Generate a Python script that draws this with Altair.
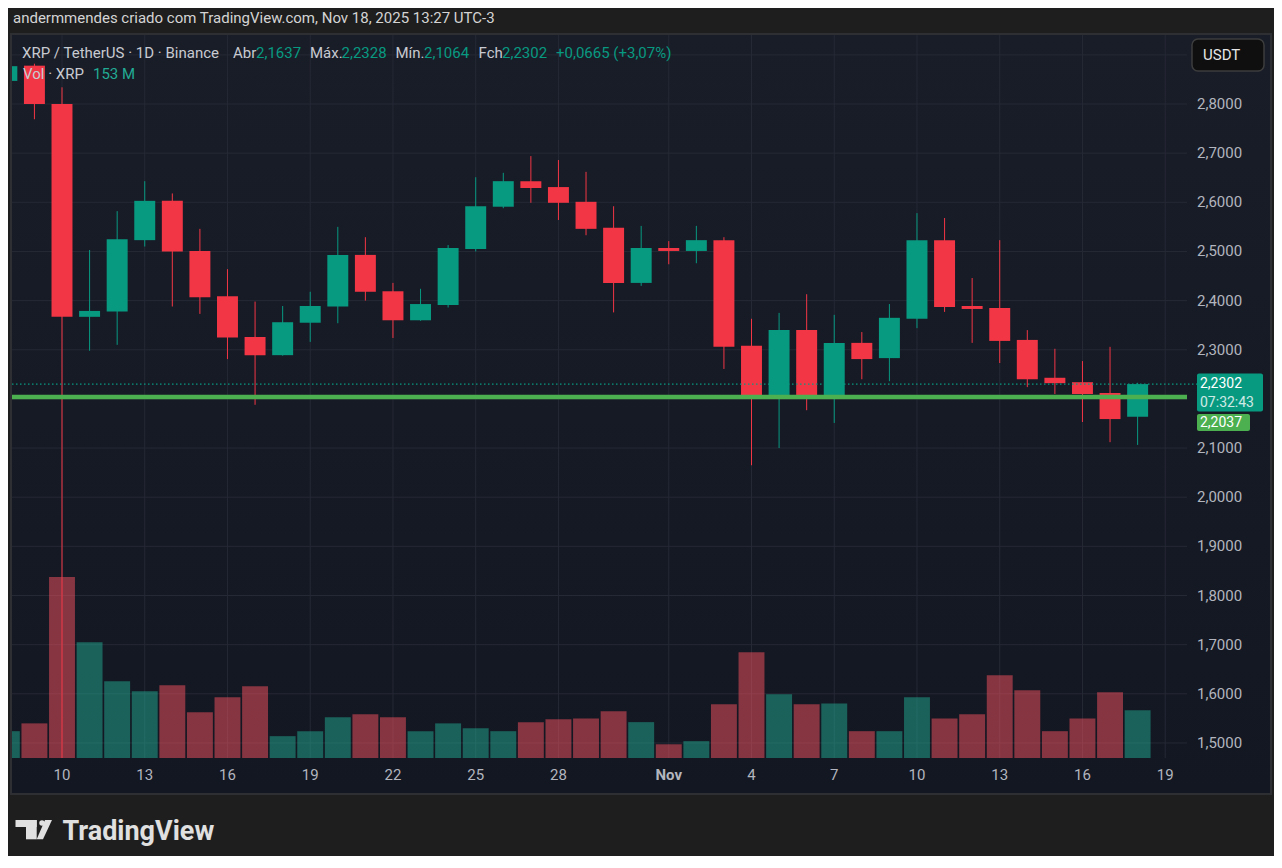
import altair as alt
import pandas as pd

# ---------------- data ----------------
dates = [d.strftime("%Y-%m-%d") for d in pd.date_range("2025-10-08", "2025-11-18")]
opens = [2.847, 2.878, 2.800, 2.367, 2.378, 2.523, 2.603, 2.501, 2.409, 2.326, 2.289, 2.355, 2.388, 2.493,
         2.419, 2.360, 2.391, 2.505, 2.591, 2.643, 2.631, 2.601, 2.548, 2.436, 2.507, 2.501, 2.523, 2.308,
         2.203, 2.340, 2.208, 2.314, 2.283, 2.363, 2.523, 2.389, 2.385, 2.320, 2.243, 2.234, 2.212, 2.1637]
highs = [2.905, 2.882, 2.834, 2.503, 2.582, 2.643, 2.618, 2.546, 2.464, 2.398, 2.389, 2.418, 2.550, 2.529,
         2.436, 2.424, 2.513, 2.651, 2.660, 2.694, 2.686, 2.662, 2.592, 2.552, 2.521, 2.552, 2.529, 2.363,
         2.375, 2.413, 2.371, 2.336, 2.393, 2.578, 2.568, 2.446, 2.523, 2.340, 2.302, 2.277, 2.306, 2.2328]
lows = [2.815, 2.769, 1.250, 2.298, 2.310, 2.510, 2.388, 2.373, 2.281, 2.188, 2.288, 2.316, 2.354, 2.400,
        2.324, 2.359, 2.386, 2.500, 2.588, 2.599, 2.564, 2.533, 2.376, 2.430, 2.474, 2.476, 2.261, 2.065,
        2.100, 2.177, 2.151, 2.240, 2.236, 2.344, 2.377, 2.314, 2.273, 2.224, 2.210, 2.153, 2.112, 2.1064]
closes = [2.877, 2.800, 2.367, 2.379, 2.525, 2.603, 2.500, 2.407, 2.325, 2.289, 2.356, 2.389, 2.493, 2.418,
          2.360, 2.393, 2.507, 2.592, 2.643, 2.629, 2.599, 2.546, 2.436, 2.507, 2.501, 2.523, 2.306, 2.203,
          2.340, 2.208, 2.314, 2.281, 2.365, 2.523, 2.387, 2.383, 2.318, 2.240, 2.232, 2.210, 2.159, 2.2302]
volumes_m = [86, 111, 580, 371, 246, 214, 233, 147, 195, 230, 70, 86, 131, 140, 131, 86, 111, 95, 86, 115,
             124, 127, 150, 115, 44, 54, 172, 339, 204, 172, 175, 86, 86, 195, 127, 140, 265, 217, 86, 127,
             211, 153]

# price-scale labels shown (2,2000 is hidden behind the last-price boxes in the reference)
price_label_values = [1.5, 1.6, 1.7, 1.8, 1.9, 2.0, 2.1, 2.3, 2.4, 2.5, 2.6, 2.7, 2.8]
grid_prices = [1.5, 1.6, 1.7, 1.8, 1.9, 2.0, 2.1, 2.2, 2.3, 2.4, 2.5, 2.6, 2.7, 2.8, 2.9]
date_tick_dates = ["2025-10-10", "2025-10-13", "2025-10-16", "2025-10-19", "2025-10-22", "2025-10-25",
                   "2025-10-28", "2025-11-01", "2025-11-04", "2025-11-07", "2025-11-10", "2025-11-13",
                   "2025-11-16", "2025-11-19"]
date_tick_labels = ["10", "13", "16", "19", "22", "25", "28", "Nov", "4", "7", "10", "13", "16", "19"]

last_price = 2.2302
level_price = 2.2037
countdown = "07:32:43"
header_text = "andermmendes criado com TradingView.com, Nov 18, 2025 13:27 UTC-3"

# ---------------- layout ----------------
W, H = 1174, 723
ORIGIN = pd.Timestamp("2025-10-10")
X_DOMAIN = [-1.813, 40.754]
Y_DOMAIN = [1.4694, 2.9404]
VOL_DOMAIN = [0, 2318]
UP, DOWN = "#089981", "#f23645"
VUP, VDOWN = "#22ab94", "#f7525f"
GRID = "#252935"
LABEL = "#b2b5be"
FONT = "Roboto"

xs = alt.Scale(domain=X_DOMAIN, nice=False, zero=False)
ys = alt.Scale(domain=Y_DOMAIN, nice=False, zero=False)
vs = alt.Scale(domain=VOL_DOMAIN, nice=False, zero=True)

df = pd.DataFrame({"date": dates, "open": opens, "high": highs, "low": lows,
                   "close": closes, "vol": volumes_m})
df["d"] = (pd.to_datetime(df["date"]) - ORIGIN).dt.days
df["dir"] = ["up" if c >= o else "down" for o, c in zip(opens, closes)]

ticks_df = pd.DataFrame({"d": [(pd.Timestamp(t) - ORIGIN).days for t in date_tick_dates],
                         "lbl": date_tick_labels})
one = pd.DataFrame({"a": [0]})


def X(field):
    return alt.X(field, scale=xs, axis=None)


def Y(field):
    return alt.Y(field, scale=ys, axis=None)


def txt(text, x, y, size=15, color=LABEL, weight="normal", align="left", baseline="middle", opacity=1.0):
    return alt.Chart(one).mark_text(
        text=text, align=align, baseline=baseline, fontSize=size, color=color,
        fontWeight=weight, font=FONT, opacity=opacity
    ).encode(x=alt.value(x), y=alt.value(y))


# background pane with gradient
bg = alt.Chart(one).mark_rect(
    fill=alt.Gradient(gradient="linear", x1=0, x2=0, y1=0, y2=1,
                      stops=[alt.GradientStop(color="#191d28", offset=0),
                             alt.GradientStop(color="#131722", offset=1)])
).encode(x=alt.value(0), x2=alt.value(1258), y=alt.value(0), y2=alt.value(758))

frame = alt.Chart(one).mark_rect(fillOpacity=0, stroke="#2e2f33", strokeWidth=2).encode(
    x=alt.value(-1), x2=alt.value(1259), y=alt.value(-1), y2=alt.value(759))

# grid
hgrid = alt.Chart(pd.DataFrame({"p": grid_prices})).mark_rule(color=GRID, strokeWidth=1).encode(
    y=Y("p:Q"), x=alt.value(0), x2=alt.value(W + 1))
vgrid = alt.Chart(ticks_df).mark_rule(color=GRID, strokeWidth=1, clip=True).encode(
    x=X("d:Q"), y=alt.value(0), y2=alt.value(H))

base = alt.Chart(df)
cond_v = alt.condition(alt.datum.dir == "up", alt.value(VUP), alt.value(VDOWN))
cond_c = alt.condition(alt.datum.dir == "up", alt.value(UP), alt.value(DOWN))

volume = base.transform_calculate(v0="datum.d - 0.47", v1="datum.d + 0.47").mark_rect(
    clip=True, opacity=0.5).encode(
    x=X("v0:Q"), x2="v1:Q",
    y=alt.Y("vol:Q", scale=vs, axis=None), y2=alt.Y2(datum=0),
    fill=cond_v)

wicks = base.mark_rule(clip=True, strokeWidth=1).encode(
    x=X("d:Q"), y=Y("low:Q"), y2="high:Q", color=cond_c)

bodies = base.transform_calculate(b0="datum.d - 0.38", b1="datum.d + 0.38").mark_rect(
    clip=True).encode(x=X("b0:Q"), x2="b1:Q", y=Y("open:Q"), y2="close:Q", fill=cond_c)

last_df = pd.DataFrame({"p": [last_price]})
level_df = pd.DataFrame({"p": [level_price]})

last_line = alt.Chart(last_df).mark_rule(color=UP, strokeWidth=1.2, strokeDash=[1.5, 2.5]).encode(
    y=Y("p:Q"), x=alt.value(0), x2=alt.value(1185))
level_line = alt.Chart(level_df).mark_rule(color="#4caf50", strokeWidth=4.5).encode(
    y=Y("p:Q"), x=alt.value(0), x2=alt.value(W + 1))

# price labels (right scale)
price_lbls = alt.Chart(pd.DataFrame({"p": price_label_values})).transform_calculate(
    lbl="replace(format(datum.p, '.4f'), '.', ',')"
).mark_text(align="left", baseline="middle", fontSize=15, color=LABEL, font=FONT).encode(
    y=Y("p:Q"), x=alt.value(1185), text="lbl:N")

# date labels
date_lbls = alt.Chart(ticks_df).transform_filter(alt.datum.lbl != "Nov").mark_text(
    align="center", baseline="middle", fontSize=15, color=LABEL, font=FONT).encode(
    x=X("d:Q"), y=alt.value(740), text="lbl:N")
month_lbls = alt.Chart(ticks_df).transform_filter(alt.datum.lbl == "Nov").mark_text(
    align="center", baseline="middle", fontSize=15, color=LABEL, font=FONT, fontWeight="bold").encode(
    x=X("d:Q"), y=alt.value(740), text="lbl:N")

# price boxes
last_box = alt.Chart(last_df).mark_rect(fill=UP, cornerRadius=2, yOffset=-10.5, y2Offset=27.5).encode(
    y=Y("p:Q"), y2="p:Q", x=alt.value(1185), x2=alt.value(1251))
last_txt = alt.Chart(last_df).transform_calculate(
    lbl="replace(format(datum.p, '.4f'), '.', ',')").mark_text(
    align="left", baseline="middle", fontSize=14, color="#ffffff", font=FONT, dy=-0.5).encode(
    y=Y("p:Q"), x=alt.value(1188), text="lbl:N")
count_txt = alt.Chart(last_df).mark_text(
    align="left", baseline="middle", fontSize=14, color="#ffffff", opacity=0.8, font=FONT,
    text=countdown, dy=18.5).encode(y=Y("p:Q"), x=alt.value(1188))
level_box = alt.Chart(level_df).mark_rect(fill="#4caf50", cornerRadius=2, yOffset=17, y2Offset=34).encode(
    y=Y("p:Q"), y2="p:Q", x=alt.value(1185), x2=alt.value(1238))
level_txt = alt.Chart(level_df).transform_calculate(
    lbl="replace(format(datum.p, '.4f'), '.', ',')").mark_text(
    align="left", baseline="middle", fontSize=14, color="#ffffff", font=FONT,
    dy=25.5).encode(y=Y("p:Q"), x=alt.value(1188), text="lbl:N")

usdt_box = alt.Chart(one).mark_rect(fill="#0f0f0f", stroke="#3d3d3d", strokeWidth=1.5, cornerRadius=6).encode(
    x=alt.value(1180), x2=alt.value(1252), y=alt.value(4), y2=alt.value(36))
usdt_txt = txt("USDT", 1191, 20, size=15, color="#e6e6e6")

# legend
legend = [
    txt("XRP / TetherUS · 1D · Binance", 10, 18, color="#c8cad1"),
    txt("Abr", 221, 18, color="#c8cad1"),
    txt("2,1637", 244, 18, color=UP),
    txt("Máx.", 298, 18, color="#c8cad1"),
    txt("2,2328", 329.5, 18, color=UP),
    txt("Mín.", 383.5, 18, color="#c8cad1"),
    txt("2,1064", 412, 18, color=UP),
    txt("Fch", 466.6, 18, color="#c8cad1"),
    txt("2,2302", 490, 18, color=UP),
    txt("+0,0665 (+3,07%)", 544, 18, color=UP),
    txt("Vol · XRP", 11, 39, color="#c8cad1"),
    txt(f"{volumes_m[-1]} M", 81, 39, color=VUP),
]

header = txt(header_text, 1, -17, size=15, color="#d4d4d4")

# TradingView logo
logo_bar = alt.Chart(one).mark_rect(fill="#e0e0e0").encode(
    x=alt.value(3.5), x2=alt.value(24.7), y=alt.value(785), y2=alt.value(792))
logo_stem = alt.Chart(one).mark_rect(fill="#e0e0e0").encode(
    x=alt.value(14), x2=alt.value(24.7), y=alt.value(785), y2=alt.value(804.3))
logo_dot = alt.Chart(one).mark_circle(color="#e0e0e0", opacity=1, size=30).encode(
    x=alt.value(30), y=alt.value(788))
logo_slash = alt.Chart(one).mark_point(
    shape="M0.067,-1 L0.793,-1 L-0.14,1 L-0.793,1 Z", filled=True, size=372,
    color="#e0e0e0", opacity=1, strokeWidth=0).encode(x=alt.value(32.35), y=alt.value(794.65))
logo_txt = txt("TradingView", 50.4, 805, size=27, color="#e0e0e0", weight="bold", baseline="alphabetic")

layers = [bg, frame, hgrid, vgrid, volume, wicks, bodies, last_line, level_line,
          price_lbls, date_lbls, month_lbls, last_box, last_txt, count_txt, level_box, level_txt,
          usdt_box, usdt_txt] + legend + [header, logo_bar, logo_stem, logo_dot, logo_slash, logo_txt]

chart = alt.layer(*layers).resolve_scale(y="independent").properties(
    width=W, height=H,
    padding={"left": 4, "top": 27, "right": 88, "bottom": 98},
    autosize=alt.AutoSizeParams(type="none"),
    background="#1e1e1e",
).configure(font=FONT).configure_view(strokeWidth=0)

chart.save("out.html", embed_options={"renderer": "svg", "actions": False})
